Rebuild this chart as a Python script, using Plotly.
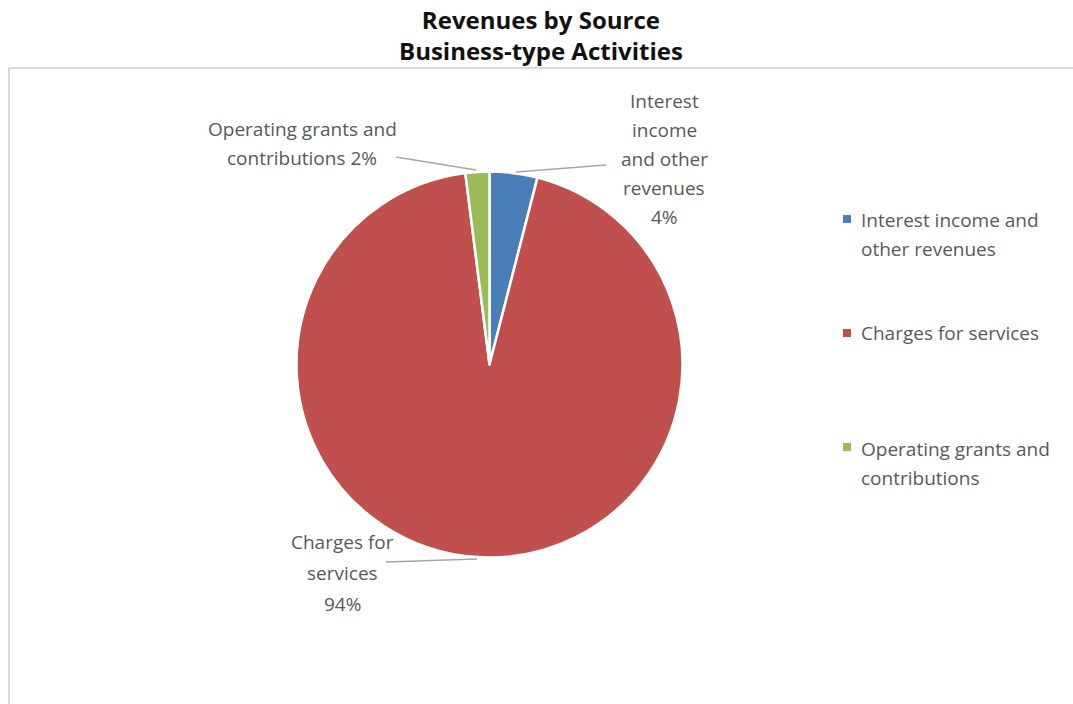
import plotly.graph_objects as go

# Revenue sources (percent of total)
categories = ["Interest income and other revenues", "Charges for services", "Operating grants and contributions"]
values = [4, 94, 2]
colors = ["#4a7ebb", "#c0504d", "#9bbb59"]

# Outside label lines for each slice; the percentage is appended from values
slice_label_lines = [
    ["Interest", "income", "and other", "revenues"],
    ["Charges for", "services"],
    ["Operating grants and", "contributions"],
]
legend_lines = [
    ["Interest income and", "other revenues"],
    ["Charges for services"],
    ["Operating grants and", "contributions"],
]
title_lines = ["Revenues by Source", "Business-type Activities"]

W, H = 1073, 704
CX, CY, R = 489.5, 364.5, 193

def px(x):
    return x / W

def py(y):
    return 1 - y / H

FONT = "Open Sans"
GREY = "#595959"
LABEL_SIZE = 19

fig = go.Figure(
    go.Pie(
        labels=categories,
        values=values,
        sort=False,
        direction="clockwise",
        rotation=0,
        marker=dict(colors=colors, line=dict(color="white", width=2.5)),
        textinfo="none",
        hoverinfo="label+percent",
        showlegend=False,
        domain=dict(x=[px(CX - R), px(CX + R)], y=[py(CY + R), py(CY - R)]),
    )
)

annotations = []
shapes = []

def text_block(lines, x, y0, step, anchor, size, color, family):
    for k, line in enumerate(lines):
        annotations.append(dict(
            x=px(x), y=py(y0 + k * step), xref="paper", yref="paper",
            xanchor=anchor, yanchor="middle", text=line, showarrow=False,
            font=dict(family=family, size=size, color=color),
        ))

# Chart title (two lines in one block)
annotations.append(dict(
    x=px(541), y=py(35), xref="paper", yref="paper", xanchor="center", yanchor="middle",
    text="<b>" + "<br>".join(title_lines) + "</b>", showarrow=False,
    font=dict(family=FONT, size=24, color="#111111"),
))

# Slice labels with percentages
blue_lines = slice_label_lines[0] + [f"{values[0]}%"]
text_block(blue_lines, 664, 101, 29, "center", LABEL_SIZE, GREY, FONT)
red_lines = slice_label_lines[1] + [f"{values[1]}%"]
text_block(red_lines, 342, 542, 31, "center", LABEL_SIZE, GREY, FONT)
green_lines = slice_label_lines[2][:-1] + [f"{slice_label_lines[2][-1]} {values[2]}%"]
text_block(green_lines, 302, 129, 29, "center", LABEL_SIZE, GREY, FONT)

# Leader lines from labels to slices
leaders = [((516, 172), (606, 165)), ((386, 562), (477, 559)), ((396, 157), (476, 170))]
for (x0, y0), (x1, y1) in leaders:
    shapes.append(dict(type="line", xref="paper", yref="paper",
                       x0=px(x0), y0=py(y0), x1=px(x1), y1=py(y1),
                       line=dict(color="#a6a6a6", width=1.5)))

# Legend: colour swatch plus text
legend_rows = [(219, 220), (333, 333), (447, 449)]
for i, (sy, ty) in enumerate(legend_rows):
    shapes.append(dict(type="rect", xref="paper", yref="paper",
                       x0=px(843), x1=px(851), y0=py(sy - 4), y1=py(sy + 4),
                       fillcolor=colors[i], line=dict(width=0)))
    text_block(legend_lines[i], 859, ty, 29, "left", LABEL_SIZE, GREY, FONT)

# Chart-area frame (left and top edges)
shapes.append(dict(type="line", xref="paper", yref="paper", x0=px(9), y0=py(68), x1=px(W), y1=py(68),
                   line=dict(color="#d9d9d9", width=2)))
shapes.append(dict(type="line", xref="paper", yref="paper", x0=px(9), y0=py(68), x1=px(9), y1=py(H),
                   line=dict(color="#d9d9d9", width=2)))

fig.update_layout(
    width=W, height=H,
    margin=dict(l=0, r=0, t=0, b=0),
    paper_bgcolor="white", plot_bgcolor="white",
    annotations=annotations, shapes=shapes,
)

fig.write_html("out.html")
